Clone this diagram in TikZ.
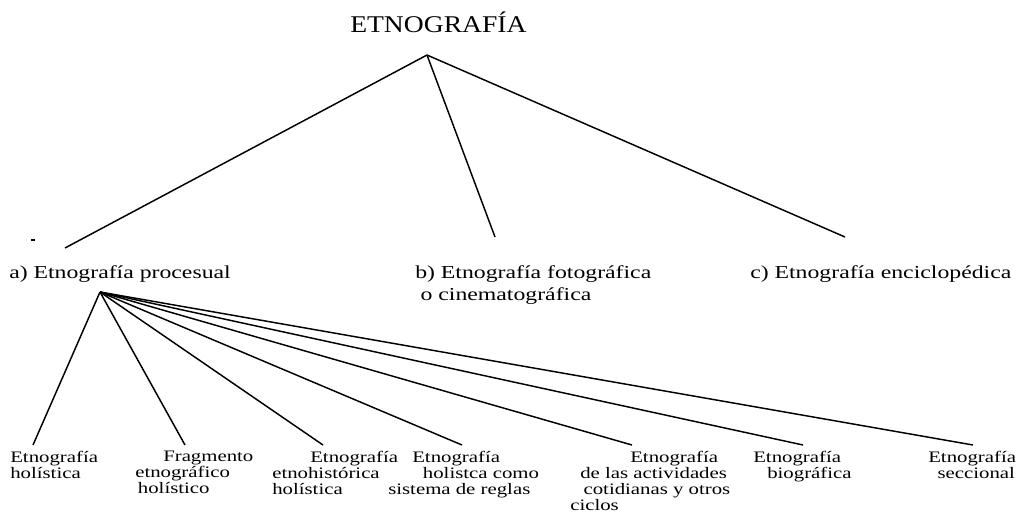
\documentclass[tikz,border=0pt]{standalone}
\usepackage{fontspec}
\setmainfont[FakeStretch=1.3]{Liberation Serif}
\newfontfamily\titlefont[FakeStretch=1.15]{Liberation Serif}

\begin{document}
\begin{tikzpicture}[x=0.75pt,y=-0.75pt]
		\tikzset{
			rootbox/.style ={
				inner sep=0pt, %文字和边框的距离
				anchor=base west,
				font=\titlefont\fontsize{18}{21}\selectfont
			},
			branchbox/.style ={
				inner sep=0pt,
				align=left,
				font=\fontsize{13.7}{16.5}\selectfont
			},
			leafbox/.style ={
				inner sep=0pt,
				align=left, %多行左对齐
				anchor=north west,
				font=\fontsize{12}{12}\selectfont
			},
			edge/.style ={
				line width=1.1pt
			}
		}
		\useasboundingbox (0,0) rectangle (1026,512);
		\node[rootbox] (0) at(350,32){ETNOGRAFÍA};
		\node[branchbox,anchor=base west] (1) at(9,278){a) Etnografía procesual};
		\node[branchbox,anchor=north west] (2) at(415,265){b) Etnografía fotográfica\\\hspace*{4pt}o cinematográfica};
		\node[branchbox,anchor=base west] (3) at(750,278){c) Etnografía enciclopédica};
		\node[leafbox] (4) at(10,451){Etnografía\\holística};
		\node[leafbox] (5) at(135,451){\hspace*{21pt}Fragmento\\etnográfico\\\hspace*{2pt}holístico};
		\node[leafbox] (6) at(272,451){\hspace*{28.5pt}Etnografía\\etnohistórica\\holística};
		\node[leafbox] (7) at(388,451){\hspace*{18pt}Etnografía\\\hspace*{26pt}holistca como\\sistema de reglas};
		\node[leafbox] (8) at(570,451){\hspace*{45pt}Etnografía\\\hspace*{7.5pt}de las actividades\\\hspace*{10pt}cotidianas y otros\\ciclos};
		\node[leafbox] (9) at(753,451){Etnografía\\\hspace*{10.5pt}biográfica};
		\node[leafbox] (10) at(928,451){Etnografía\\\hspace*{7pt}seccional};
		% puntos de unión
		\coordinate (t) at(427,55);
		\coordinate (e1) at(65,248);
		\coordinate (e2) at(495,237);
		\coordinate (e3) at(845,237);
		\coordinate (f) at(100,292);
		\coordinate (h4) at(33,445);
		\coordinate (h5) at(185,445);
		\coordinate (h6) at(323,445);
		\coordinate (h7) at(462,445);
		\coordinate (h8) at(632,445);
		\coordinate (h9) at(803,445);
		\coordinate (h10) at(973,445);
		\draw[edge] (t)--(e1);
		\draw[edge] (t)--(e2);
		\draw[edge] (t)--(e3);
		\draw[edge] (f)--(h4);
		\draw[edge] (f)--(h5);
		\draw[edge] (f)--(h6);
		\draw[edge] (f)--(h7);
		\draw[edge] (f)--(h8);
		\draw[edge] (f)--(h9);
		\draw[edge] (f)--(h10);
		\draw[line width=1.2pt] (31,240)--(35,240);
	\end{tikzpicture}
\end{document}
